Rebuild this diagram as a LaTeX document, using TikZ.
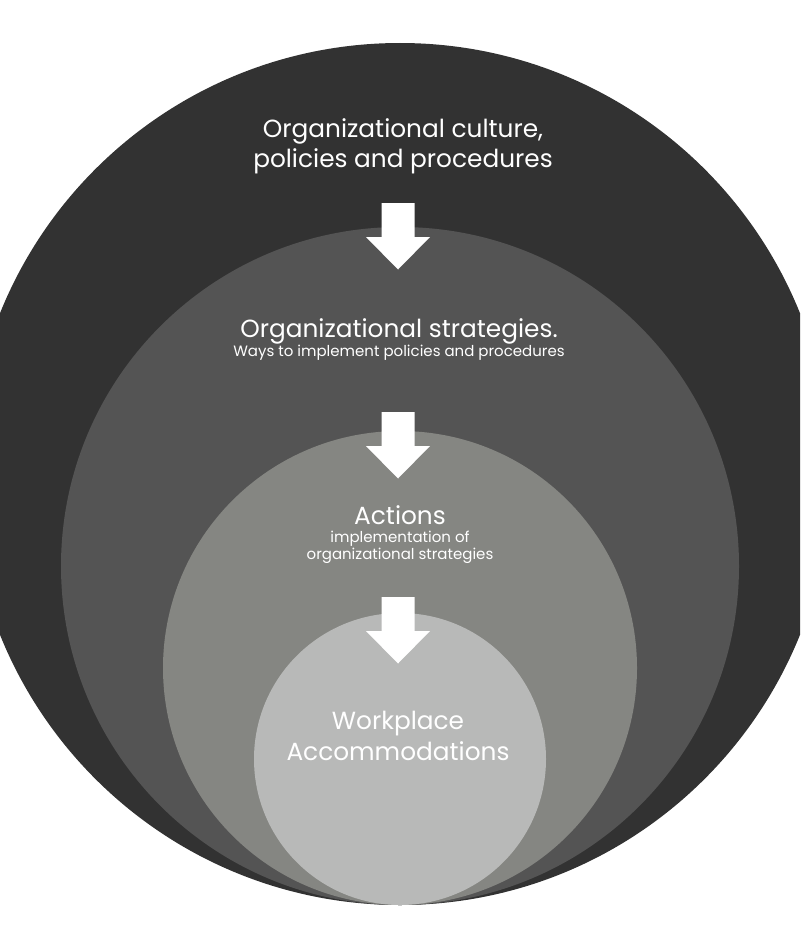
\documentclass[tikz,border=0pt]{standalone}
\usepackage{fontspec}
\setmainfont{Poppins}
\definecolor{ringA}{HTML}{323232}
\definecolor{ringB}{HTML}{545454}
\definecolor{ringC}{HTML}{858682}
\definecolor{ringD}{HTML}{B8B9B8}
\tikzset{
  ring/.style={circle, inner sep=0pt, draw=none},
  bigtext/.style={text=white, anchor=base, inner sep=0pt, font=\fontsize{24.8}{30}\selectfont},
  smalltext/.style={text=white, anchor=base, inner sep=0pt, font=\fontsize{15}{18}\selectfont},
  blockarrow/.pic={\fill[white] (-16.5,0) -- (16.5,0) -- (16.5,34) -- (32,34) -- (0,66.5) -- (-32,34) -- (-16.5,34) -- cycle;}
}
\begin{document}
\begin{tikzpicture}[x=1pt,y=-1pt]
\useasboundingbox (0,0) rectangle (800,947);
\clip (0,0) rectangle (800,947);
\node[ring, fill=ringA, minimum size=862pt] (outer) at (400,474) {};
\node[ring, fill=ringB, minimum size=678pt] (strat) at (400,566) {};
\node[ring, fill=ringC, minimum size=474pt] (act) at (400,668) {};
\node[ring, fill=ringD, minimum size=292pt] (work) at (400,759) {};
\pic at (398,203) {blockarrow};
\pic at (398,412) {blockarrow};
\pic at (398,597) {blockarrow};
\node[bigtext] (t1a) at (403,138) {Organizational culture,};
\node[bigtext] (t1b) at (403,167) {policies and procedures};
\node[bigtext] (t2a) at (399,337) {Organizational strategies.};
\node[smalltext] (t2b) at (399,356) {Ways to implement policies and procedures};
\node[bigtext] (t3a) at (400,524) {Actions};
\node[smalltext] (t3b) at (400,542) {implementation of};
\node[smalltext] (t3c) at (400,559) {organizational strategies};
\node[bigtext] (t4a) at (398,729) {Workplace};
\node[bigtext] (t4b) at (398,760) {Accommodations};
\end{tikzpicture}
\end{document}
